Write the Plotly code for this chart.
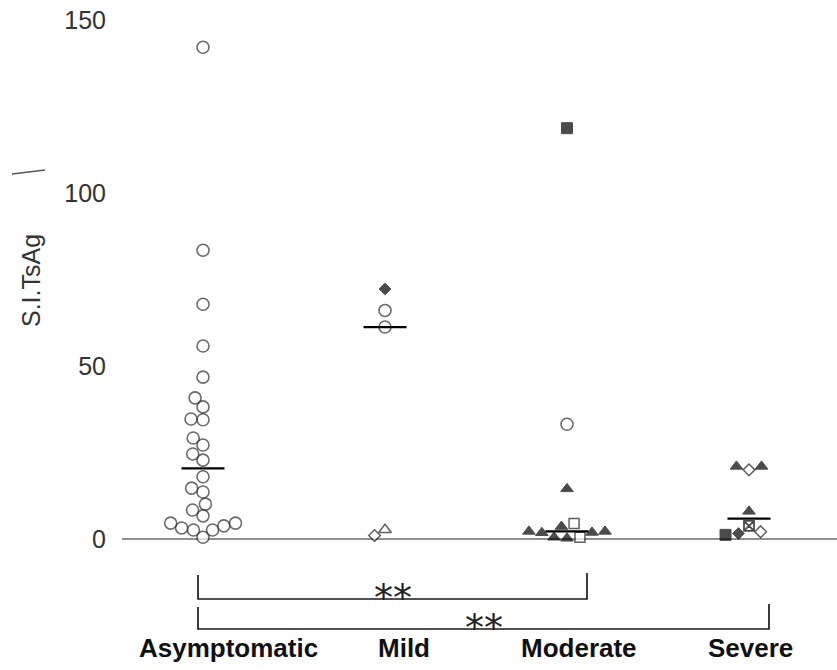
import math
import statistics
import plotly.graph_objects as go

# ---------------------------------------------------------------- data ----
groups = ["Asymptomatic", "Mild", "Moderate", "Severe"]

asymptomatic_si = [0.5, 2.6, 2.6, 3.2, 3.8, 4.6, 4.6, 6.7, 8.4, 10.1, 13.6, 14.7,
                   18.0, 22.8, 24.6, 27.2, 29.2, 34.5, 34.7, 38.2, 40.8, 46.8,
                   55.8, 67.9, 83.5, 142.2]
asymptomatic_kind = ["open_circle"] * len(asymptomatic_si)

mild_si = [72.3, 66.1, 61.3, 2.7, 1.0]
mild_kind = ["filled_diamond", "open_circle", "open_circle", "open_triangle", "open_diamond"]

moderate_si = [0.2, 0.5, 0.5, 1.8, 1.9, 2.2, 2.2, 3.6, 4.5, 14.5, 33.2, 118.8]
moderate_kind = ["filled_triangle", "filled_triangle", "open_square", "filled_triangle",
                 "filled_triangle", "filled_triangle", "filled_triangle", "filled_triangle",
                 "open_square", "filled_triangle", "open_circle", "filled_square"]

severe_si = [8.0, 3.8, 1.6, 2.1, 1.2, 20.0, 21.0, 21.0]
severe_kind = ["filled_triangle", "crossed_square", "filled_diamond", "open_diamond",
               "filled_square", "open_diamond", "filled_triangle", "filled_triangle"]

y_tick_values = [0, 50, 100, 150]
y_title = "S.I.TsAg"
significance = [("Asymptomatic", "Moderate", "**"), ("Asymptomatic", "Severe", "**")]

group_values = [asymptomatic_si, mild_si, moderate_si, severe_si]
group_kinds = [asymptomatic_kind, mild_kind, moderate_kind, severe_kind]

# ------------------------------------------------------------ geometry ----
W, H = 837, 670
ML, MR, MT, MB = 122, 0, 0, 0
PW, PH = W - ML - MR, H - MT - MB
X_RANGE = [0.5549, 4.4835]
Y_RANGE = [-37.88, 155.87]
PX_PER_X = PW / (X_RANGE[1] - X_RANGE[0])
PX_PER_Y = PH / (Y_RANGE[1] - Y_RANGE[0])


def px_to_y(py):
    return Y_RANGE[1] - (py - MT) / PX_PER_Y


def px_to_paper(px, py):
    return (px - ML) / PW, 1 - (py - MT) / PH


group_pos = {g: i + 1 for i, g in enumerate(groups)}
swarm_diameter = {"Asymptomatic": 12, "Mild": 12, "Moderate": 13, "Severe": 13}

STYLE = {
    "open_circle": dict(symbol="circle", size=12, color="white", lc="#2e2e2e", lw=1.6),
    "filled_diamond": dict(symbol="diamond", size=9, color="black", lc="black", lw=1),
    "open_diamond": dict(symbol="diamond", size=9, color="white", lc="#1e1e1e", lw=1.5),
    "open_triangle": dict(symbol="triangle-up", size=11, color="white", lc="#1e1e1e", lw=1.5),
    "filled_triangle": dict(symbol="triangle-up", size=11, color="black", lc="black", lw=1),
    "open_square": dict(symbol="square", size=10, color="white", lc="#1e1e1e", lw=1.5),
    "filled_square": dict(symbol="square", size=11, color="black", lc="black", lw=1),
    "crossed_square": dict(symbol="square-x", size=10, color="white", lc="black", lw=1.8),
}


def swarm_offsets(values, diam):
    """Place points one by one at the free spot nearest the column centre."""
    placed, out = [], []
    for v in values:
        y = v * PX_PER_Y
        cands = [0.0]
        for px, py in placed:
            dy = abs(y - py)
            if dy < diam:
                dx = math.sqrt(diam ** 2 - dy ** 2)
                cands += [px + dx, px - dx]
        free = [c for c in cands
                if all(math.hypot(c - px, y - py) >= diam - 1e-6 for px, py in placed)]
        best = min(free, key=lambda c: (round(abs(c), 6), c))
        placed.append((best, y))
        out.append(best / PX_PER_X)
    return out


fig = go.Figure()
shapes = []

for g, vals, kinds in zip(groups, group_values, group_kinds):
    centre = group_pos[g]
    offs = swarm_offsets(vals, swarm_diameter[g])
    fig.add_trace(go.Scatter(
        x=[centre + o for o in offs], y=vals, mode="markers", name=g,
        showlegend=False, cliponaxis=False,
        marker=dict(
            symbol=[STYLE[k]["symbol"] for k in kinds],
            size=[STYLE[k]["size"] for k in kinds],
            color=[STYLE[k]["color"] for k in kinds],
            line=dict(color=[STYLE[k]["lc"] for k in kinds],
                      width=[STYLE[k]["lw"] for k in kinds]),
        ),
    ))
    med = statistics.median(vals)
    half = 21.5 / PX_PER_X
    shapes.append(dict(type="line", xref="x", yref="y", x0=centre - half, x1=centre + half,
                       y0=med, y1=med, line=dict(color="black", width=2.2), layer="above"))

# significance brackets
bracket_rows = [(599, 575, 573), (629, 607, 604)]  # horizontal, left top, right top (px)
annotations = []
for (g0, g1, label), (hy, ly, ry) in zip(significance, bracket_rows):
    x0 = group_pos[g0] - 5 / PX_PER_X
    x1 = group_pos[g1] + 20 / PX_PER_X
    path = (f"M {x0},{px_to_y(ly)} L {x0},{px_to_y(hy)} "
            f"L {x1},{px_to_y(hy)} L {x1},{px_to_y(ry)}")
    shapes.append(dict(type="path", xref="x", yref="y", path=path,
                       line=dict(color="#1a1a1a", width=1.7)))
    annotations.append(dict(x=(x0 + x1) / 2, y=px_to_y(hy - 1), xref="x", yref="y",
                            text=label, showarrow=False, xanchor="center", yanchor="middle",
                            font=dict(family="DejaVu Sans", size=38, color="#222222")))

# category labels below the brackets
label_px = [228.5, 403.5, 578.5, 750.5]
for g, lx in zip(groups, label_px):
    px, py = px_to_paper(lx, 648)
    annotations.append(dict(x=px, y=py, xref="paper", yref="paper", text=g, showarrow=False,
                            xanchor="center", yanchor="middle",
                            font=dict(family="Liberation Sans", size=26, color="#111111",
                                      weight="bold")))

# y-axis title
tx, ty = px_to_paper(31, 281)
annotations.append(dict(x=tx, y=ty, xref="paper", yref="paper", text=y_title, showarrow=False,
                        textangle=-90, xanchor="center", yanchor="middle",
                        font=dict(family="Liberation Sans", size=25, color="#333333")))

# small pen stroke in the margin
sx0, sy0 = px_to_paper(12, 174)
sx1, sy1 = px_to_paper(45, 170)
shapes.append(dict(type="line", xref="paper", yref="paper", x0=sx0, y0=sy0, x1=sx1, y1=sy1,
                   line=dict(color="#555555", width=1.4)))

fig.update_layout(
    width=W, height=H,
    margin=dict(l=ML, r=MR, t=MT, b=MB, pad=0),
    paper_bgcolor="white", plot_bgcolor="white",
    shapes=shapes, annotations=annotations,
    xaxis=dict(range=X_RANGE, visible=False, showgrid=False, zeroline=False),
    yaxis=dict(range=Y_RANGE, tickvals=y_tick_values, ticks="", showgrid=False,
               showline=False, zeroline=True, zerolinecolor="#8f8f8f", zerolinewidth=1.5,
               ticklabelstandoff=15,
               tickfont=dict(family="Liberation Sans", size=25, color="#333333")),
)

fig.write_html("out.html")
